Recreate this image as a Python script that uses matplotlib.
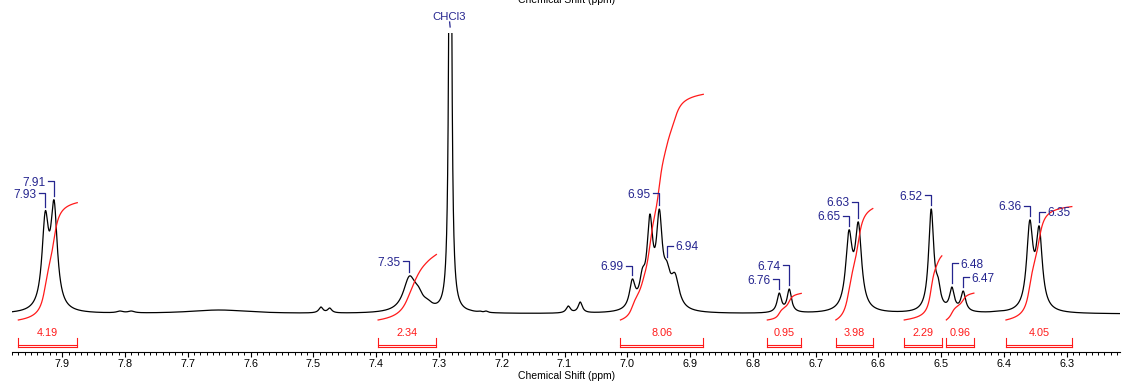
import numpy as np
import matplotlib
matplotlib.use("Agg")
import matplotlib.pyplot as plt

plt.rcParams['font.family'] = ['Liberation Sans', 'DejaVu Sans']

# ---------------- data ----------------
# peak list: position (ppm), apparent height (px-like units above baseline), half width (ppm)
peak_ppm = [7.927, 7.913, 7.808, 7.790, 7.650, 7.488, 7.474,
            7.347, 7.333, 7.318, 7.282, 7.250, 7.235, 7.225,
            7.094, 7.075,
            6.992, 6.976, 6.964, 6.949, 6.937, 6.924,
            6.758, 6.742, 6.700, 6.647, 6.632,
            6.516, 6.505, 6.483, 6.465,
            6.410, 6.359, 6.344]
peak_height = [103, 114, 3, 3, 4, 7, 6,
               38, 28, 15, 800, 4, 3, 3,
               8, 12,
               35, 46, 100, 105, 53, 41,
               21, 25, 2, 84, 92,
               105, 37, 27, 23,
               3, 94, 88]
peak_hwhm = [0.0063, 0.0063, 0.006, 0.006, 0.06, 0.004, 0.004,
             0.012, 0.009, 0.009, 0.0019, 0.003, 0.003, 0.003,
             0.004, 0.004,
             0.0055, 0.0055, 0.0056, 0.0056, 0.0065, 0.008,
             0.0042, 0.0042, 0.02, 0.0062, 0.0062,
             0.005, 0.0045, 0.0045, 0.0045,
             0.01, 0.006, 0.006]

# integrals
integral_from = [7.970, 7.397, 7.011, 6.777, 6.668, 6.559, 6.492, 6.397]
integral_to = [7.876, 7.304, 6.879, 6.723, 6.609, 6.499, 6.448, 6.292]
integral_value = [4.19, 2.34, 8.06, 0.95, 3.98, 2.29, 0.96, 4.05]

# peak labels
label_text = ["7.91", "7.93", "7.35", "6.99", "6.95", "6.94", "6.76", "6.74",
              "6.65", "6.63", "6.52", "6.48", "6.47", "6.36", "6.35"]
label_ppm = [7.913, 7.927, 7.347, 6.992, 6.949, 6.937, 6.758, 6.742,
             6.647, 6.632, 6.516, 6.483, 6.465, 6.359, 6.344]
label_side = ["L", "L", "L", "L", "L", "R", "L", "L",
              "L", "L", "L", "R", "R", "L", "R"]
solvent_label = "CHCl3"
solvent_ppm = 7.283

tick_labels = ["7.9", "7.8", "7.7", "7.6", "7.5", "7.4", "7.3", "7.2", "7.1",
               "7.0", "6.9", "6.8", "6.7", "6.6", "6.5", "6.4", "6.3"]

# ---------------- layout (pixel-derived) ----------------
label_y = [133, 121, 53, 48, 121, 68, 35, 49, 98, 112, 119, 51, 37, 108, 102]
W, H = 1124, 386
ax_left, ax_right, ax_top, ax_bot = 12, 1120, 33, 352
x_lim = (7.9796, 6.2153)
y_lim = (-38, 281)

navy = "#25258f"
red = "#ff1a1a"

# ---------------- spectrum ----------------
P = np.array(peak_ppm)
Hh = np.array(peak_height, float)
G = np.array(peak_hwhm)
M = 1.0 / (1.0 + ((P[:, None] - P[None, :]) / G[None, :]) ** 2)
A = Hh.copy()
for _ in range(400):
    A = np.clip(A + 0.5 * (Hh - M @ A), 0, None)

ppm = np.linspace(x_lim[0], x_lim[1], 12000)
spec = np.zeros_like(ppm)
for a, p, g in zip(A, P, G):
    spec += a / (1.0 + ((ppm - p) / g) ** 2)

fig = plt.figure(figsize=(W / 100, H / 100), dpi=100)
ax = fig.add_axes([ax_left / W, 1 - ax_bot / H, (ax_right - ax_left) / W, (ax_bot - ax_top) / H])
ax.set_xlim(*x_lim)
ax.set_ylim(*y_lim)

ax.plot(ppm, spec, color="black", lw=0.9)

# integral curves and brackets
scale = 28.0
for f, t, v in zip(integral_from, integral_to, integral_value):
    m = (ppm <= f) & (ppm >= t)
    c = np.cumsum(spec[m])
    c = c / c[-1] * v * scale - 6
    ax.plot(ppm[m], c, color=red, lw=0.9)
    ax.plot([f, t], [-30.5, -30.5], color=red, lw=0.8, clip_on=False)
    ax.plot([f, t], [-32.8, -32.8], color=red, lw=0.8, clip_on=False)
    ax.plot([f, f], [-24, -32.8], color=red, lw=0.8, clip_on=False)
    ax.plot([t, t], [-24, -32.8], color=red, lw=0.8, clip_on=False)
    ax.text((f + t) / 2, -19, f"{v:.2f}", color=red, fontsize=7.8,
            ha="center", va="center", clip_on=False)

# peak labels
def spec_at(p):
    return np.interp(p, ppm[::-1], spec[::-1])

hx = 0.0095
gap = 0.004
for txt, p, ly, side in zip(label_text, label_ppm, label_y, label_side):
    bottom = spec_at(p) + 4
    if side == "L":
        ax.plot([p + hx, p, p], [ly, ly, bottom], color=navy, lw=0.9)
        ax.text(p + hx + gap, ly - 1.5, txt, color=navy, fontsize=8.6, ha="right", va="center")
    else:
        ax.plot([p - hx, p, p], [ly, ly, bottom], color=navy, lw=0.9)
        ax.text(p - hx - gap, ly - 1.5, txt, color=navy, fontsize=8.6, ha="left", va="center")

ax.text(solvent_ppm + 0.001, 297, solvent_label, color=navy, fontsize=8.2, ha="center",
        va="center", clip_on=False)
ax.plot([solvent_ppm, solvent_ppm - 0.0008], [292, 287], color=navy, lw=0.9, clip_on=False)

# axes styling
for s in ["top", "left", "right"]:
    ax.spines[s].set_visible(False)
ax.spines["bottom"].set_linewidth(0.8)
ax.set_yticks([])
major = [float(s) for s in tick_labels]
ax.set_xticks(major)
ax.set_xticklabels(tick_labels, fontsize=7.8)
ax.set_xticks(np.round(np.arange(6.22, 7.98, 0.01), 2), minor=True)
ax.tick_params(axis="x", which="major", direction="out", length=3.8, width=0.8, pad=1.5)
ax.tick_params(axis="x", which="minor", direction="out", length=2.2, width=0.7)
ax.set_facecolor("none")

fig.text(567 / W, 1 - 376 / H, "Chemical Shift (ppm)", fontsize=7.5, ha="center", va="center")
fig.text(567 / W, 1 - 3 / H, "Chemical Shift (ppm)", fontsize=7.5, ha="center", va="baseline")

fig.savefig("out.png", dpi=100, facecolor="white")
